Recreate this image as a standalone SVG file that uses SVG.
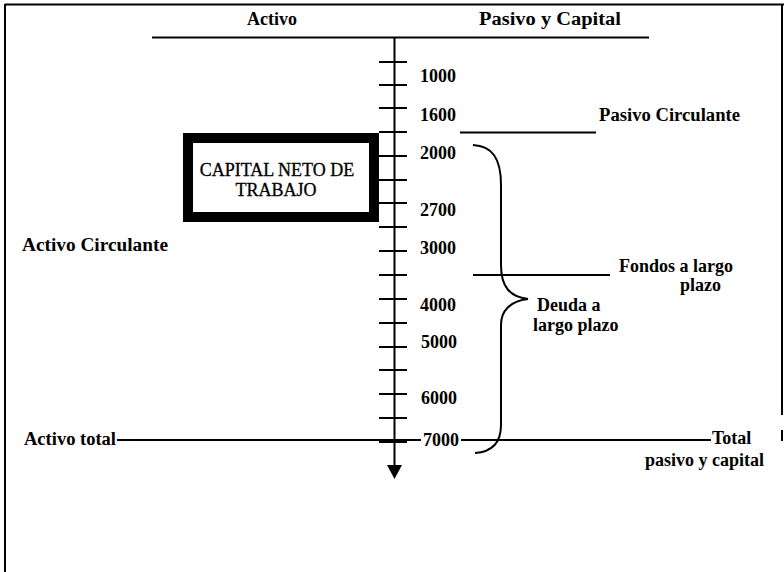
<svg xmlns="http://www.w3.org/2000/svg" width="784" height="572" viewBox="0 0 784 572">
  <style>
    .lbl { font-family: "Liberation Serif", "Times New Roman", serif; font-size: 18px; font-weight: bold; fill: #000; }
    .box { font-family: "Liberation Serif", "Times New Roman", serif; font-size: 18px; font-weight: normal; fill: #000; stroke: #000; stroke-width: 0.3; }
    .ln { stroke: #000; stroke-width: 2; fill: none; }
    .tick { stroke: #000; stroke-width: 2; }
  </style>
  <rect x="0" y="0" width="784" height="572" fill="#fff"/>
  <g id="frame">
    <line class="ln" x1="5" y1="4.5" x2="784" y2="4.5"/>
    <line class="ln" x1="5" y1="4" x2="5" y2="572"/>
    <line class="ln" x1="782" y1="4" x2="782" y2="415"/>
    <line class="ln" x1="782" y1="430" x2="782" y2="441"/>
  </g>
  <g id="header">
    <text class="lbl" x="272" y="25" text-anchor="middle">Activo</text>
    <text class="lbl" x="550" y="25" text-anchor="middle" textLength="142" lengthAdjust="spacingAndGlyphs">Pasivo y Capital</text>
    <line class="ln" x1="152" y1="37.5" x2="649" y2="37.5"/>
  </g>
  <g id="axis">
    <line class="ln" x1="394.5" y1="37" x2="394.5" y2="466"/>
    <polygon points="387,465 402,465 394.5,479" fill="#000"/>
    <g class="tick">
      <line x1="379" y1="62" x2="407" y2="62"/>
      <line x1="379" y1="85" x2="407" y2="85"/>
      <line x1="379" y1="108" x2="407" y2="108"/>
      <line x1="379" y1="132" x2="407" y2="132"/>
      <line x1="379" y1="156" x2="407" y2="156"/>
      <line x1="379" y1="180" x2="407" y2="180"/>
      <line x1="379" y1="203" x2="407" y2="203"/>
      <line x1="379" y1="227" x2="407" y2="227"/>
      <line x1="379" y1="251" x2="407" y2="251"/>
      <line x1="379" y1="275" x2="407" y2="275"/>
      <line x1="379" y1="299" x2="407" y2="299"/>
      <line x1="379" y1="323" x2="407" y2="323"/>
      <line x1="379" y1="347" x2="407" y2="347"/>
      <line x1="379" y1="370" x2="407" y2="370"/>
      <line x1="379" y1="394" x2="407" y2="394"/>
      <line x1="379" y1="418" x2="407" y2="418"/>
      <line x1="379" y1="442" x2="407" y2="442"/>
    </g>
    <text class="lbl" x="420" y="82">1000</text>
    <text class="lbl" x="420" y="121">1600</text>
    <text class="lbl" x="420" y="159">2000</text>
    <text class="lbl" x="420" y="216">2700</text>
    <text class="lbl" x="420" y="254">3000</text>
    <text class="lbl" x="420" y="311">4000</text>
    <text class="lbl" x="421" y="348">5000</text>
    <text class="lbl" x="421" y="404">6000</text>
    <text class="lbl" x="423" y="446">7000</text>
  </g>
  <g id="capital-neto">
    <rect x="188" y="138" width="186" height="79" fill="#fff" stroke="#000" stroke-width="10"/>
    <text class="box" x="277" y="176" text-anchor="middle">CAPITAL NETO DE</text>
    <text class="box" x="276" y="196" text-anchor="middle">TRABAJO</text>
  </g>
  <g id="activo-circulante">
    <text class="lbl" x="22" y="251" textLength="146" lengthAdjust="spacingAndGlyphs">Activo Circulante</text>
  </g>
  <g id="pasivo-circulante">
    <line class="ln" x1="460" y1="132.5" x2="596" y2="132.5"/>
    <text class="lbl" x="599" y="121" textLength="141" lengthAdjust="spacingAndGlyphs">Pasivo Circulante</text>
  </g>
  <g id="fondos">
    <line class="ln" x1="473" y1="275" x2="610" y2="275"/>
    <text class="lbl" x="619" y="272">Fondos a largo</text>
    <text class="lbl" x="680" y="291">plazo</text>
  </g>
  <g id="deuda">
    <path class="ln" d="M473,145 C492,146 501,158 501,185 L501,265 C501,287 510,297 528,299 C510,301 501,311 501,325 L501,425 C501,445 490,452 475,453"/>
    <text class="lbl" x="537" y="311">Deuda a</text>
    <text class="lbl" x="533" y="331">largo plazo</text>
  </g>
  <g id="totales">
    <line class="ln" x1="117" y1="440" x2="421" y2="440"/>
    <line class="ln" x1="461" y1="440" x2="711" y2="440"/>
    <text class="lbl" x="24" y="445" textLength="92" lengthAdjust="spacingAndGlyphs">Activo total</text>
    <text class="lbl" x="712" y="444">Total</text>
    <text class="lbl" x="764" y="466" text-anchor="end">pasivo y capital</text>
  </g>
</svg>
